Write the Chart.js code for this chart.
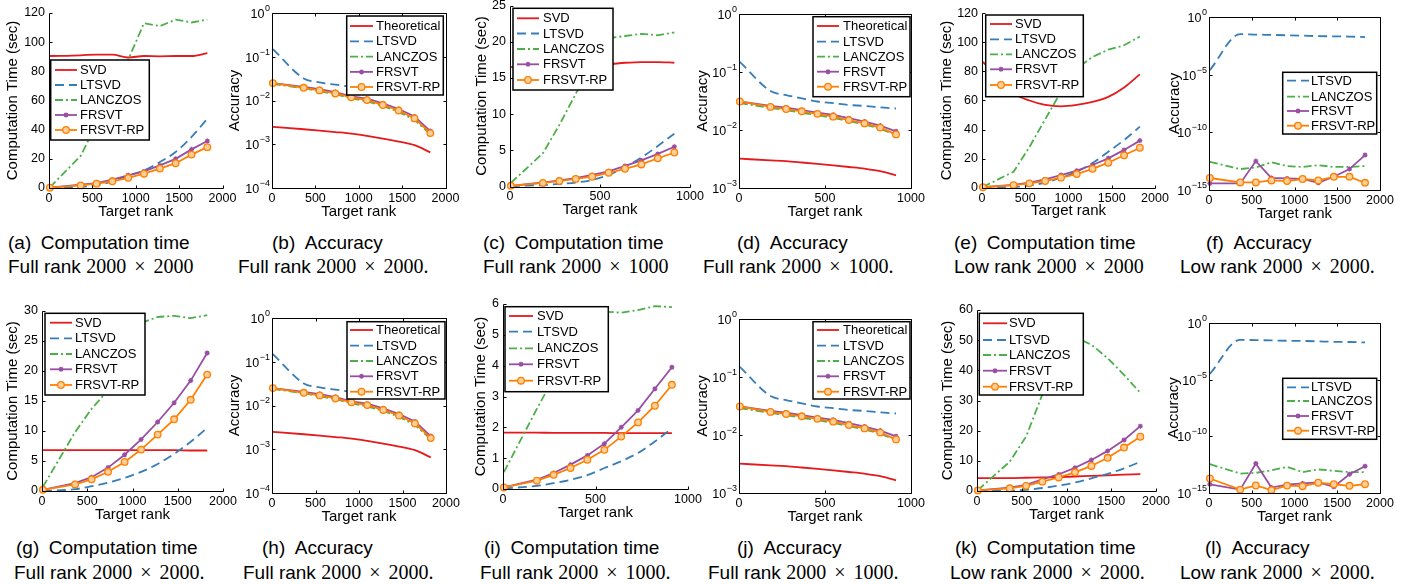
<!DOCTYPE html>
<html>
<head>
<meta charset="utf-8">
<script src="https://cdn.jsdelivr.net/npm/chart.js@4.4.0/dist/chart.umd.min.js"></script>
<style>
  body { margin: 0; width: 1421px; height: 584px; background: #fff; position: relative; overflow: hidden;
         font-family: "Liberation Sans", Arial, sans-serif; color: #000; }
  canvas { position: absolute; }
  .cap { position: absolute; font-size: 19px; line-height: 22px; white-space: nowrap; }
  .m { font-family: "Liberation Serif", "DejaVu Serif", serif; font-size: 20px; }
  .x { margin: 0 8px; }
</style>
</head>
<body>
<!-- captions -->
<div class="cap" style="left:8px;top:232px">(a)&ensp;Computation time</div>
<div class="cap" style="left:8px;top:255px">Full rank <span class="m">2000<span class="x">×</span>2000</span></div>
<div class="cap" style="left:272px;top:232px">(b)&ensp;Accuracy</div>
<div class="cap" style="left:238px;top:255px">Full rank <span class="m">2000<span class="x">×</span>2000.</span></div>
<div class="cap" style="left:483px;top:232px">(c)&ensp;Computation time</div>
<div class="cap" style="left:483px;top:255px">Full rank <span class="m">2000<span class="x">×</span>1000</span></div>
<div class="cap" style="left:737px;top:232px">(d)&ensp;Accuracy</div>
<div class="cap" style="left:703px;top:255px">Full rank <span class="m">2000<span class="x">×</span>1000.</span></div>
<div class="cap" style="left:954px;top:232px">(e)&ensp;Computation time</div>
<div class="cap" style="left:954px;top:255px">Low rank <span class="m">2000<span class="x">×</span>2000</span></div>
<div class="cap" style="left:1206px;top:232px">(f)&ensp;Accuracy</div>
<div class="cap" style="left:1180px;top:255px">Low rank <span class="m">2000<span class="x">×</span>2000.</span></div>

<div class="cap" style="left:16px;top:537px">(g)&ensp;Computation time</div>
<div class="cap" style="left:14px;top:561px">Full rank <span class="m">2000<span class="x">×</span>2000.</span></div>
<div class="cap" style="left:262px;top:537px">(h)&ensp;Accuracy</div>
<div class="cap" style="left:243px;top:561px">Full rank <span class="m">2000<span class="x">×</span>2000.</span></div>
<div class="cap" style="left:484px;top:537px">(i)&ensp;Computation time</div>
<div class="cap" style="left:480px;top:561px">Full rank <span class="m">2000<span class="x">×</span>1000.</span></div>
<div class="cap" style="left:737px;top:537px">(j)&ensp;Accuracy</div>
<div class="cap" style="left:708px;top:561px">Full rank <span class="m">2000<span class="x">×</span>1000.</span></div>
<div class="cap" style="left:955px;top:537px">(k)&ensp;Computation time</div>
<div class="cap" style="left:950px;top:561px">Low rank <span class="m">2000<span class="x">×</span>2000.</span></div>
<div class="cap" style="left:1205px;top:537px">(l)&ensp;Accuracy</div>
<div class="cap" style="left:1180px;top:561px">Low rank <span class="m">2000<span class="x">×</span>2000.</span></div>

<script>
// ==== target ranks (x values) ====
const rank2000 = [10, 365, 548, 730, 913, 1095, 1278, 1460, 1643, 1825];
const rank1000 = [5, 183, 274, 365, 456, 548, 639, 730, 821, 913];

const timeNames = ['SVD', 'LTSVD', 'LANCZOS', 'FRSVT', 'FRSVT-RP'];
const accNames = ['Theoretical', 'LTSVD', 'LANCZOS', 'FRSVT', 'FRSVT-RP'];
const lowAccNames = ['LTSVD', 'LANCZOS', 'FRSVT', 'FRSVT-RP'];

const timeTicks = { a: [0, 120, 20], c: [0, 25, 5], e: [0, 120, 20], g: [0, 30, 5], i: [0, 6, 1], k: [0, 60, 10] };
const decadesFull = [1e-4, 1e-3, 1e-2, 1e-1, 1];
const decadesHalf = [1e-3, 1e-2, 1e-1, 1];
const decadesLow = [1e-15, 1e-10, 1e-5, 1];

// (a) full rank 2000x2000, time
const aSVD = [90.5, 91, 91.5, 91.5, 89.5, 90.5, 90.3, 90.5, 90.5, 92.5];
const aLTSVD = [0.1, 0.8, 2, 4.5, 8.5, 12, 17.8, 24.7, 35, 47.5];
const aLANCZOS = [0.5, 22, 44, 66, 88, 113, 111, 115.5, 113.5, 115.5];
const aFRSVT = [0.3, 2.3, 3.4, 5.7, 8.7, 11.4, 15.5, 20, 26.5, 32.2];
const aFRSVTRP = [0.2, 1.8, 3, 4.6, 7, 9.8, 13.3, 17, 22.9, 28];

// (b) full rank 2000x2000, accuracy  (also used for (h), same curves)
const bTheory = [2.5e-3, 2.2e-3, 2.05e-3, 1.9e-3, 1.75e-3, 1.55e-3, 1.35e-3, 1.15e-3, 9.5e-4, 6.5e-4];
const bLTSVD = [0.15, 0.032, 0.026, 0.023, 0.0205, 0.019, 0.018, 0.017, 0.0165, 0.016];
const bLANCZOS = [0.024, 0.019, 0.0162, 0.014, 0.0112, 0.0096, 0.0075, 0.0055, 0.0036, 0.0017];
const bFRSVT = [0.025, 0.0205, 0.0183, 0.0156, 0.0124, 0.011, 0.0086, 0.0064, 0.0043, 0.002];
const bFRSVTRP = [0.025, 0.0195, 0.017, 0.0145, 0.0118, 0.0102, 0.0079, 0.0059, 0.0039, 0.0018];

// (c) full rank 2000x1000, time
const cSVD = [16.5, 16.6, 16.7, 16.8, 16.8, 16.9, 17.1, 17.2, 17.2, 17.1];
const cLTSVD = [0.05, 0.2, 0.35, 0.55, 0.9, 1.6, 2.7, 4.0, 5.6, 7.3];
const cLANCZOS = [0.5, 4.6, 8.5, 12.8, 17, 20.5, 20.8, 21.1, 20.9, 21.3];
const cFRSVT = [0.1, 0.55, 0.85, 1.15, 1.6, 2.1, 2.85, 3.6, 4.5, 5.5];
const cFRSVTRP = [0.1, 0.5, 0.75, 1.05, 1.35, 1.9, 2.45, 3.05, 3.9, 4.7];

// (d) full rank 2000x1000, accuracy  (also used for (j))
const dTheory = [3.2e-3, 3.0e-3, 2.9e-3, 2.75e-3, 2.6e-3, 2.45e-3, 2.3e-3, 2.15e-3, 1.95e-3, 1.65e-3];
const dLTSVD = [0.15, 0.047, 0.04, 0.035, 0.031, 0.029, 0.027, 0.026, 0.0245, 0.0235];
const dLANCZOS = [0.029, 0.024, 0.022, 0.0198, 0.018, 0.0162, 0.0142, 0.0125, 0.0105, 0.0082];
const dFRSVT = [0.031, 0.0261, 0.0244, 0.022, 0.02, 0.0183, 0.016, 0.014, 0.0119, 0.0095];
const dFRSVTRP = [0.031, 0.025, 0.023, 0.021, 0.019, 0.017, 0.0148, 0.013, 0.011, 0.0084];

// (e) low rank 2000x2000, time
const eSVD = [86.5, 65, 60, 57, 56, 57, 59, 62.5, 69, 78];
const eLTSVD = [0, 0.5, 1.5, 3.5, 7, 11, 17, 24.8, 32.8, 42];
const eLANCZOS = [0.5, 11, 28, 47, 66, 82, 90, 95, 98, 104];
const eFRSVT = [0.3, 2, 3.5, 5.7, 8.7, 11.7, 15.6, 20.2, 26, 32.4];
const eFRSVTRP = [0.3, 1.8, 3, 4.6, 6.9, 9.4, 13, 17.2, 22.3, 27.5];

// (f) low rank 2000x2000, accuracy
const fLTSVD = [2.5e-5, 0.033, 0.03, 0.028, 0.026, 0.024, 0.022, 0.021, 0.02, 0.018];
const fLANCZOS = [2.8e-13, 6.5e-14, 9e-14, 2.5e-13, 1.2e-13, 1e-13, 1.4e-13, 1e-13, 1e-13, 1.2e-13];
const fFRSVT = [3.7e-15, 3.7e-15, 3.2e-13, 1.1e-14, 1e-14, 9e-15, 4.2e-15, 1.4e-14, 6.5e-14, 1.07e-12];
const fFRSVTRP = [1.1e-14, 4.5e-15, 4.5e-15, 6.7e-15, 6e-15, 9e-15, 6.7e-15, 1.4e-14, 1.4e-14, 4.2e-15];

// (g) full rank 2000x2000, time (second run)
const gSVD = [6.8, 6.8, 6.8, 6.8, 6.8, 6.8, 6.8, 6.8, 6.75, 6.75];
const gLTSVD = [0, 0.3, 0.8, 1.4, 2.2, 3.2, 4.5, 6.2, 8.2, 10.5];
const gLANCZOS = [0.7, 9.8, 13.7, 16.8, 22, 28, 29, 29.2, 28.8, 29.3];
const gFRSVT = [0.2, 1.3, 2.3, 3.9, 6.05, 8.6, 11.5, 14.7, 18.4, 23];
const gFRSVTRP = [0.2, 1.1, 1.95, 3.2, 4.85, 6.9, 9.4, 11.95, 15.2, 19.4];

// (i) full rank 2000x1000, time (second run)
const iSVD = [1.83, 1.83, 1.82, 1.82, 1.82, 1.82, 1.81, 1.81, 1.81, 1.81];
const iLTSVD = [0.02, 0.1, 0.19, 0.3, 0.45, 0.68, 0.9, 1.17, 1.54, 1.97];
const iLANCZOS = [0.55, 2.6, 3.6, 4.5, 5.3, 5.75, 5.72, 5.8, 5.93, 5.9];
const iFRSVT = [0.05, 0.3, 0.52, 0.79, 1.09, 1.47, 2.0, 2.55, 3.25, 3.95];
const iFRSVTRP = [0.05, 0.27, 0.46, 0.68, 0.95, 1.27, 1.7, 2.16, 2.7, 3.38];

// (k) low rank 2000x2000, time (second run)
const kSVD = [4.3, 4.3, 4.4, 4.5, 4.6, 4.8, 5.0, 5.2, 5.4, 5.6];
const kLTSVD = [0, 0.1, 0.4, 1.0, 1.8, 2.8, 4.2, 5.7, 7.5, 9.7];
const kLANCZOS = [0.3, 9.7, 18, 32, 42, 51, 48.5, 44, 38.5, 32.5];
const kFRSVT = [0.2, 1.1, 2.0, 3.9, 5.5, 7.7, 10.3, 13.3, 16.9, 21.5];
const kFRSVTRP = [0.2, 0.9, 1.7, 3.1, 4.5, 6.2, 8.3, 11.0, 14.4, 18.0];

// (l) low rank 2000x2000, accuracy (second run)
const lLTSVD = [3.2e-5, 0.033, 0.031, 0.029, 0.027, 0.026, 0.024, 0.022, 0.021, 0.0195];
const lLANCZOS = [3.5e-13, 5.2e-14, 6e-14, 1e-13, 2e-13, 7e-14, 1.2e-13, 9e-14, 7e-14, 7e-14];
const lFRSVT = [5.9e-15, 2e-15, 4e-13, 3e-15, 5.5e-15, 7e-15, 8.5e-15, 3.5e-15, 4.5e-14, 2.3e-13];
const lFRSVTRP = [1.9e-14, 2e-15, 4.7e-15, 1.8e-15, 4.5e-15, 4e-15, 8e-15, 5.9e-15, 4.3e-15, 5.9e-15];

// ==== line styles ====
const FONT = '"Liberation Sans", Arial, sans-serif';
Chart.defaults.font.family = FONT;
Chart.defaults.color = '#000';

const styles = {
  'SVD': { color: '#e41a1c', smooth: true },
  'Theoretical': { color: '#e41a1c', smooth: true },
  'LTSVD': { color: '#377eb8', dash: [9, 5], smooth: true },
  'LANCZOS': { color: '#4daf4a', dash: [8, 3, 2, 3] },
  'FRSVT': { color: '#984ea3', point: 'star', radius: 2.5 },
  'FRSVT-RP': { color: '#ff7f00', point: 'circle', radius: 3.3, fill: '#ffcf99' }
};

function series(name, xs, ys, order) {
  const s = styles[name];
  return {
    label: name,
    data: xs.map((x, i) => ({ x: x, y: ys[i] })),
    borderColor: s.color,
    backgroundColor: s.fill || s.color,
    borderWidth: 1.8,
    borderDash: s.dash || [],
    pointStyle: s.point || 'circle',
    pointRadius: s.point ? s.radius : 0,
    pointBorderColor: s.color,
    pointBackgroundColor: s.fill || s.color,
    pointBorderWidth: 1.3,
    cubicInterpolationMode: s.smooth ? 'monotone' : 'default',
    tension: 0,
    clip: false,
    order: order
  };
}

// ==== panel layout (page pixels) ====
const timeTitle = 'Computation Time (sec)';
const panels = [
  { l: 49, t: 13, r: 222.5, b: 188, ranks: rank2000, names: timeNames, ys: [aSVD, aLTSVD, aLANCZOS, aFRSVT, aFRSVTRP],
    lin: timeTicks.a, title: timeTitle, titleX: 13.3,
    leg: { l: 50.7, t: 60, r: 149.3, b: 140, x0: 55, x1: 77, tx: 80, rows: [70, 85, 100, 115, 130] } },
  { l: 272, t: 13, r: 445.5, b: 188, ranks: rank2000, names: accNames, ys: [bTheory, bLTSVD, bLANCZOS, bFRSVT, bFRSVTRP],
    decades: decadesFull, title: 'Accuracy', titleX: 235,
    leg: { l: 346.7, t: 16, r: 443.3, b: 95, x0: 350, x1: 373, tx: 376, rows: [26, 41.3, 56.6, 71.9, 87] } },
  { l: 510, t: 5.6, r: 690, b: 186.5, ranks: rank1000, names: timeNames, ys: [cSVD, cLTSVD, cLANCZOS, cFRSVT, cFRSVTRP],
    lin: timeTicks.c, title: timeTitle, titleX: 481.7,
    leg: { l: 513, t: 8.3, r: 613, b: 90, x0: 517, x1: 539, tx: 543, rows: [18.3, 33.5, 49, 64.3, 80] } },
  { l: 739, t: 14, r: 911, b: 188, ranks: rank1000, names: accNames, ys: [dTheory, dLTSVD, dLANCZOS, dFRSVT, dFRSVTRP],
    decades: decadesHalf, title: 'Accuracy', titleX: 703,
    leg: { l: 813, t: 16.7, r: 910, b: 96.7, x0: 817, x1: 839, tx: 843, rows: [26, 41.7, 56.7, 71.7, 86.7] } },
  { l: 982, t: 13.3, r: 1155, b: 187.7, ranks: rank2000, names: timeNames, ys: [eSVD, eLTSVD, eLANCZOS, eFRSVT, eFRSVTRP],
    lin: timeTicks.e, title: timeTitle, titleX: 946.7,
    leg: { l: 985.7, t: 15, r: 1083.3, b: 96.7, x0: 990, x1: 1012, tx: 1015, rows: [24, 39.3, 54.3, 69.3, 85] } },
  { l: 1209, t: 17, r: 1380, b: 190, ranks: rank2000, names: lowAccNames, ys: [fLTSVD, fLANCZOS, fFRSVT, fFRSVTRP],
    decades: decadesLow, title: 'Accuracy', titleX: 1175,
    leg: { l: 1282.7, t: 72.3, r: 1376.7, b: 134, x0: 1287, x1: 1309, tx: 1311, rows: [80.7, 96.7, 111, 125.7] } },

  { l: 42, t: 311, r: 223, b: 491, ranks: rank2000, names: timeNames, ys: [gSVD, gLTSVD, gLANCZOS, gFRSVT, gFRSVTRP],
    lin: timeTicks.g, title: timeTitle, titleX: 12.7,
    leg: { l: 45, t: 313.3, r: 145, b: 395, x0: 50, x1: 72, tx: 75, rows: [322.7, 338.3, 354, 369.3, 385] } },
  { l: 272, t: 318, r: 446, b: 493, ranks: rank2000, names: accNames, ys: [bTheory, bLTSVD, bLANCZOS, bFRSVT, bFRSVTRP],
    decades: decadesFull, title: 'Accuracy', titleX: 235,
    leg: { l: 347, t: 321.7, r: 445, b: 399, x0: 350, x1: 373, tx: 376, rows: [330, 345.7, 361, 376.3, 391.7] } },
  { l: 503, t: 304, r: 688, b: 489, ranks: rank1000, names: timeNames, ys: [iSVD, iLTSVD, iLANCZOS, iFRSVT, iFRSVTRP],
    lin: timeTicks.i, title: timeTitle, titleX: 480.7,
    leg: { l: 505, t: 306.7, r: 608.3, b: 391.7, x0: 509, x1: 533, tx: 537, rows: [316, 331.7, 348.3, 364.3, 380.7] } },
  { l: 739, t: 319, r: 911, b: 493, ranks: rank1000, names: accNames, ys: [dTheory, dLTSVD, dLANCZOS, dFRSVT, dFRSVTRP],
    decades: decadesHalf, title: 'Accuracy', titleX: 703,
    leg: { l: 813, t: 321.7, r: 910, b: 399, x0: 817, x1: 839, tx: 843, rows: [330, 345.7, 361, 376.3, 391.7] } },
  { l: 977, t: 310, r: 1156, b: 491, ranks: rank2000, names: timeNames, ys: [kSVD, kLTSVD, kLANCZOS, kFRSVT, kFRSVTRP],
    lin: timeTicks.k, title: timeTitle, titleX: 948.3,
    leg: { l: 979.3, t: 313.3, r: 1083.3, b: 395, x0: 983, x1: 1007, tx: 1009, rows: [323.3, 340, 355, 370.7, 386.7] } },
  { l: 1209, t: 323, r: 1380, b: 493, ranks: rank2000, names: lowAccNames, ys: [lLTSVD, lLANCZOS, lFRSVT, lFRSVTRP],
    decades: decadesLow, title: 'Accuracy', titleX: 1174,
    leg: { l: 1282.7, t: 378.3, r: 1376.7, b: 439.3, x0: 1287, x1: 1309, tx: 1311, rows: [387.3, 401, 416, 430.7] } }
];

function drawMarker(ctx, d, x, y) {
  const r = d.pointRadius;
  ctx.save();
  ctx.setLineDash([]);
  ctx.lineWidth = d.pointBorderWidth;
  ctx.strokeStyle = d.pointBorderColor;
  ctx.fillStyle = d.pointBackgroundColor;
  ctx.beginPath();
  if (d.pointStyle === 'star') {
    for (let k = 0; k < 4; k++) {
      const a = k * Math.PI / 4;
      ctx.moveTo(x - r * Math.cos(a), y - r * Math.sin(a));
      ctx.lineTo(x + r * Math.cos(a), y + r * Math.sin(a));
    }
    ctx.stroke();
  } else {
    ctx.arc(x, y, r, 0, Math.PI * 2);
    ctx.fill();
    ctx.stroke();
  }
  ctx.restore();
}

function buildChart(p) {
  const cl = Math.floor(p.l) - 48, ct = Math.floor(p.t) - 12;
  const cw = Math.ceil(p.r) + 18 - cl, ch = Math.ceil(p.b) + 36 - ct;
  const cv = document.createElement('canvas');
  cv.width = cw; cv.height = ch;
  cv.style.left = cl + 'px'; cv.style.top = ct + 'px';
  document.body.appendChild(cv);

  const titleSize = 15;
  const lh = titleSize * 1.2;
  const xMax = p.ranks === rank2000 ? 2000 : 1000;
  const isLog = !!p.decades;
  const px = v => Math.round(v) + 0.5;

  // axes lines with inward ticks, full box on the accuracy plots
  const frame = {
    id: 'frame',
    afterDatasetsDraw(chart) {
      const { ctx, chartArea: a, scales } = chart;
      const L = px(a.left), R = px(a.right), T = px(a.top), B = px(a.bottom);
      ctx.save();
      ctx.strokeStyle = '#000';
      ctx.lineWidth = 1;
      ctx.beginPath();
      if (isLog) {
        ctx.rect(L, T, R - L, B - T);
      } else {
        ctx.moveTo(L, T); ctx.lineTo(L, B); ctx.lineTo(R, B);
      }
      scales.x.ticks.forEach(t => {
        const x = px(scales.x.getPixelForValue(t.value));
        ctx.moveTo(x, B); ctx.lineTo(x, B - 3);
        if (isLog) { ctx.moveTo(x, T); ctx.lineTo(x, T + 3); }
      });
      scales.y.ticks.forEach(t => {
        const y = px(scales.y.getPixelForValue(t.value));
        ctx.moveTo(L, y); ctx.lineTo(L + 3, y);
        if (isLog) { ctx.moveTo(R, y); ctx.lineTo(R - 3, y); }
      });
      ctx.stroke();

      // log tick labels: "10" with a raised exponent
      if (isLog) {
        ctx.fillStyle = '#000';
        ctx.textBaseline = 'middle';
        ctx.textAlign = 'right';
        scales.y.ticks.forEach(t => {
          const y = scales.y.getPixelForValue(t.value);
          const ex = String(Math.round(Math.log10(t.value))).replace('-', '\u2212');
          ctx.font = '9px ' + FONT;
          const ew = ctx.measureText(ex).width;
          ctx.fillText(ex, a.left - 2, y - 4.5);
          ctx.font = '12.5px ' + FONT;
          ctx.fillText('10', a.left - 2.5 - ew, y + 1.5);
        });
      }
      ctx.restore();
    }
  };

  // matlab style legend box inside the axes
  const boxLegend = {
    id: 'boxLegend',
    afterDraw(chart) {
      const ctx = chart.ctx, g = p.leg;
      ctx.save();
      ctx.fillStyle = '#fff';
      ctx.fillRect(g.l - cl, g.t - ct, g.r - g.l, g.b - g.t);
      ctx.strokeStyle = '#000';
      ctx.lineWidth = 1.5;
      ctx.strokeRect(g.l - cl, g.t - ct, g.r - g.l, g.b - g.t);
      chart.data.datasets.forEach((d, i) => {
        const y = g.rows[i] - ct, x0 = g.x0 - cl, x1 = g.x1 - cl;
        ctx.strokeStyle = d.borderColor;
        ctx.lineWidth = d.borderWidth;
        ctx.setLineDash(d.borderDash);
        ctx.beginPath(); ctx.moveTo(x0, y); ctx.lineTo(x1, y); ctx.stroke();
        ctx.setLineDash([]);
        if (d.pointRadius) drawMarker(ctx, d, (x0 + x1) / 2, y);
        ctx.fillStyle = '#000';
        ctx.font = '13px ' + FONT;
        ctx.textAlign = 'left';
        ctx.textBaseline = 'middle';
        ctx.fillText(d.label, g.tx - cl, y + 0.5);
      });
      ctx.restore();
    }
  };

  const tickFont = { size: 12.5 };
  const yScale = {
    grid: { display: false, drawTicks: false },
    border: { display: false },
    title: { display: true, text: p.title, font: { size: titleSize }, color: '#000',
             padding: { top: p.titleX - cl - lh / 2, bottom: 0 } },
    afterFit: s => { s.width = p.l - cl; s.paddingTop = 0; s.paddingBottom = 0; }
  };
  if (isLog) {
    Object.assign(yScale, {
      type: 'logarithmic', min: p.decades[0], max: p.decades[p.decades.length - 1],
      afterBuildTicks: s => { s.ticks = p.decades.map(v => ({ value: v })); },
      ticks: { display: false }
    });
  } else {
    Object.assign(yScale, {
      type: 'linear', min: p.lin[0], max: p.lin[1],
      ticks: { stepSize: p.lin[2], padding: 4, autoSkip: false, font: tickFont, color: '#000',
               callback: v => String(v) }
    });
  }

  new Chart(cv, {
    type: 'line',
    data: { datasets: p.names.map((n, i) => series(n, p.ranks, p.ys[i], p.names.length - i)) },
    options: {
      responsive: false,
      animation: false,
      events: [],
      layout: { padding: { left: 0, top: p.t - ct, right: cl + cw - p.r, bottom: 0 } },
      plugins: { legend: { display: false }, tooltip: { enabled: false } },
      scales: {
        x: {
          type: 'linear', min: 0, max: xMax,
          grid: { display: false, drawTicks: false },
          border: { display: false },
          ticks: { stepSize: 500, padding: 3, maxRotation: 0, autoSkip: false, font: tickFont, color: '#000',
                   callback: v => String(v) },
          title: { display: true, text: 'Target rank', font: { size: titleSize }, color: '#000',
                   padding: { top: 0, bottom: (ct + ch - p.b) - 23.5 - lh / 2 } },
          afterFit: s => { s.height = ct + ch - p.b; s.paddingLeft = 0; s.paddingRight = 0; }
        },
        y: yScale
      }
    },
    plugins: [frame, boxLegend]
  });
}

panels.forEach(buildChart);
</script>
</body>
</html>
